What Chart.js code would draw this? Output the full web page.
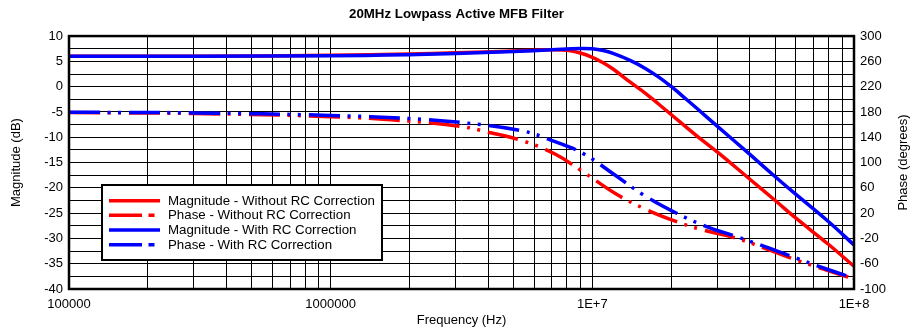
<!DOCTYPE html>
<html><head><meta charset="utf-8">
<script src="https://cdn.jsdelivr.net/npm/chart.js@4"></script>
<style>html,body{margin:0;padding:0;background:#fff;}#wrap{width:913px;height:333px;}</style>
</head><body><div id="wrap"><canvas id="c" width="913" height="333"></canvas></div>
<script>
// ---------- text ----------
const titleText = '20MHz Lowpass Active MFB Filter';
const xAxisTitle = 'Frequency (Hz)';
const yLeftTitle = 'Magnitude (dB)';
const yRightTitle = 'Phase (degrees)';
const seriesNames = [
  'Magnitude - Without RC Correction',
  'Phase - Without RC Correction',
  'Magnitude - With RC Correction',
  'Phase - With RC Correction'
];

// ---------- axis ticks ----------
const freqTicks = [
  1e5, 2e5, 3e5, 4e5, 5e5, 6e5, 7e5, 8e5, 9e5,
  1e6, 2e6, 3e6, 4e6, 5e6, 6e6, 7e6, 8e6, 9e6,
  1e7, 2e7, 3e7, 4e7, 5e7, 6e7, 7e7, 8e7, 9e7,
  1e8
];
const freqTickLabels = ['100000', '1000000', '1E+7', '1E+8'];
const freqLabelValues = [1e5, 1e6, 1e7, 1e8];

// ---------- Magnitude - Without RC Correction (dB) ----------
const magNoRcFreq = [1e5, 3e5, 1e6, 2e6, 3e6, 5e6, 6e6, 7e6, 8e6, 9e6, 1e7, 1.1e7, 1.2e7, 1.4e7, 1.6e7, 1.8e7, 2e7, 2.5e7, 3e7, 4e7, 5e7, 6e7, 8e7, 1e8];
const magNoRcDb   = [6.0, 6.0, 6.2, 6.45, 6.7, 7.05, 7.2, 7.28, 7.17, 6.65, 5.8, 4.73, 3.48, 0.83, -1.36, -3.53, -5.51, -9.68, -12.9, -18.3, -22.5, -26.0, -31.2, -35.5];

// ---------- Phase - Without RC Correction (degrees) ----------
const phNoRcFreq = [1e5, 3e5, 1e6, 2e6, 3.2e6, 4e6, 5.4e6, 7.2e6, 9.2e6, 1.22e7, 1.57e7, 2.1e7, 2.65e7, 3.56e7, 4.57e7, 6e7, 7.85e7, 1e8];
const phNoRcDeg  = [179, 177.5, 172.5, 165.5, 156.6, 148, 134.5, 113.4, 85.5, 51.3, 27.6, 6.4, -6.7, -19.9, -35.7, -54, -70, -84];

// ---------- Magnitude - With RC Correction (dB) ----------
const magRcFreq = [1e5, 1e6, 2e6, 3e6, 5e6, 7e6, 9e6, 1e7, 1.1e7, 1.2e7, 1.4e7, 1.6e7, 1.8e7, 2e7, 2.2e7, 2.5e7, 3e7, 4e7, 5e7, 6e7, 8e7, 1e8];
const magRcDb   = [6.0, 6.1, 6.3, 6.55, 6.95, 7.3, 7.55, 7.48, 7.14, 6.57, 5.15, 3.56, 1.84, 0.04, -1.76, -4.23, -7.8, -13.4, -17.8, -21.3, -26.7, -31.3];

// ---------- Phase - With RC Correction (degrees) ----------
const phRcFreq = [1e5, 3e5, 1e6, 2e6, 3.2e6, 5.4e6, 7.2e6, 9.2e6, 1.22e7, 1.57e7, 2.1e7, 2.7e7, 3.56e7, 4.57e7, 6e7, 7.85e7, 1e8];
const phRcDeg  = [179.5, 178.5, 174.5, 169.5, 163, 150, 133, 114.5, 80.2, 48.6, 19.7, -0.4, -17.3, -33, -51, -68.4, -83];

// ---------- build ----------
const toXY = (xs, ys) => xs.map((x, i) => ({x: x, y: ys[i]}));
const FONT = '"Liberation Sans", Arial, Helvetica, sans-serif';
Chart.defaults.font.family = FONT;
Chart.defaults.font.size = 13;
Chart.defaults.color = '#000';

const RED = '#ff0000', BLUE = '#0000ff';
const PHASE_DASH = [31, 7.5, 3, 7.5, 3, 8];

const datasets = [
  {label: seriesNames[0], data: toXY(magNoRcFreq, magNoRcDb), yAxisID: 'y', borderColor: RED, borderWidth: 3.5, order: 2},
  {label: seriesNames[1], data: toXY(phNoRcFreq, phNoRcDeg), yAxisID: 'y2', borderColor: RED, borderWidth: 3.5, borderDash: PHASE_DASH, order: 3},
  {label: seriesNames[2], data: toXY(magRcFreq, magRcDb), yAxisID: 'y', borderColor: BLUE, borderWidth: 3.5, order: 0},
  {label: seriesNames[3], data: toXY(phRcFreq, phRcDeg), yAxisID: 'y2', borderColor: BLUE, borderWidth: 3.5, borderDash: PHASE_DASH, order: 1}
].map(d => Object.assign({pointRadius: 0, fill: false, tension: 0.4, cubicInterpolationMode: 'default', borderCapStyle: 'butt'}, d));

const decor = {
  id: 'decor',
  afterDraw(chart) {
    const ctx = chart.ctx, ca = chart.chartArea;
    ctx.save();
    // plot frame
    ctx.strokeStyle = '#000';
    ctx.lineWidth = 2.5;
    ctx.strokeRect(ca.left, ca.top, ca.right - ca.left, ca.bottom - ca.top);
    // right axis title (reads bottom-to-top)
    ctx.fillStyle = '#000';
    ctx.font = '13px ' + FONT;
    ctx.textAlign = 'center';
    ctx.textBaseline = 'middle';
    ctx.translate(903, (ca.top + ca.bottom) / 2);
    ctx.rotate(-Math.PI / 2);
    ctx.fillText(yRightTitle, 0, 0);
    ctx.restore();

    // legend box
    ctx.save();
    const bx = 102, by = 185, bw = 280, bh = 75;
    ctx.fillStyle = '#fff';
    ctx.fillRect(bx, by, bw, bh);
    ctx.strokeStyle = '#000';
    ctx.lineWidth = 2;
    ctx.strokeRect(bx, by, bw, bh);
    const rowY = [200.7, 215.2, 230, 244.8];
    ctx.font = '13.3px ' + FONT;
    ctx.textAlign = 'left';
    ctx.textBaseline = 'middle';
    chart.data.datasets.forEach((ds, i) => {
      const y = rowY[i];
      ctx.strokeStyle = ds.borderColor;
      ctx.lineWidth = 3.5;
      ctx.lineCap = 'butt';
      ctx.setLineDash(ds.borderDash ? [33, 6.5, 6, 100] : []);
      ctx.beginPath();
      ctx.moveTo(109, y);
      ctx.lineTo(160, y);
      ctx.stroke();
      ctx.setLineDash([]);
      ctx.fillStyle = '#000';
      ctx.fillText(ds.label, 168, y + 0.5);
    });
    ctx.restore();
  }
};

new Chart(document.getElementById('c'), {
  type: 'line',
  data: {datasets: datasets},
  plugins: [decor],
  options: {
    responsive: false,
    animation: false,
    devicePixelRatio: 1,
    layout: {padding: 0},
    plugins: {
      legend: {display: false},
      tooltip: {enabled: false},
      title: {display: true, text: titleText, color: '#000', font: {size: 13.3, weight: 'bold'}, padding: {top: 6.5, bottom: 13.6}}
    },
    scales: {
      x: {
        type: 'logarithmic', min: 1e5, max: 1e8,
        afterBuildTicks: s => { s.ticks = freqTicks.map(v => ({value: v})); },
        afterFit: s => { s.height = 44; },
        ticks: {
          autoSkip: false, maxRotation: 0, minRotation: 0, padding: 8, color: '#000',
          callback: v => { const k = freqLabelValues.indexOf(v); return k >= 0 ? freqTickLabels[k] : ''; }
        },
        grid: {color: '#000', lineWidth: 1, drawTicks: false},
        border: {display: false},
        title: {display: true, text: xAxisTitle, color: '#000', padding: {top: 0, bottom: 5}}
      },
      y: {
        type: 'linear', position: 'left', min: -40, max: 10,
        afterFit: s => { s.width = 69; },
        ticks: {stepSize: 2.5, padding: 6, color: '#000', autoSkip: false,
          callback: v => (Math.abs(v % 5) < 1e-9 ? String(v) : '')},
        grid: {color: '#000', lineWidth: 1, drawTicks: false},
        border: {display: false},
        title: {display: true, text: yLeftTitle, color: '#000', padding: {top: 8.2, bottom: 0}}
      },
      y2: {
        type: 'linear', position: 'right', min: -100, max: 300,
        afterFit: s => { s.width = 59; },
        ticks: {stepSize: 40, padding: 6, color: '#000'},
        grid: {display: false, drawTicks: false},
        border: {display: false},
        title: {display: false}
      }
    }
  }
});
</script>
</body></html>
